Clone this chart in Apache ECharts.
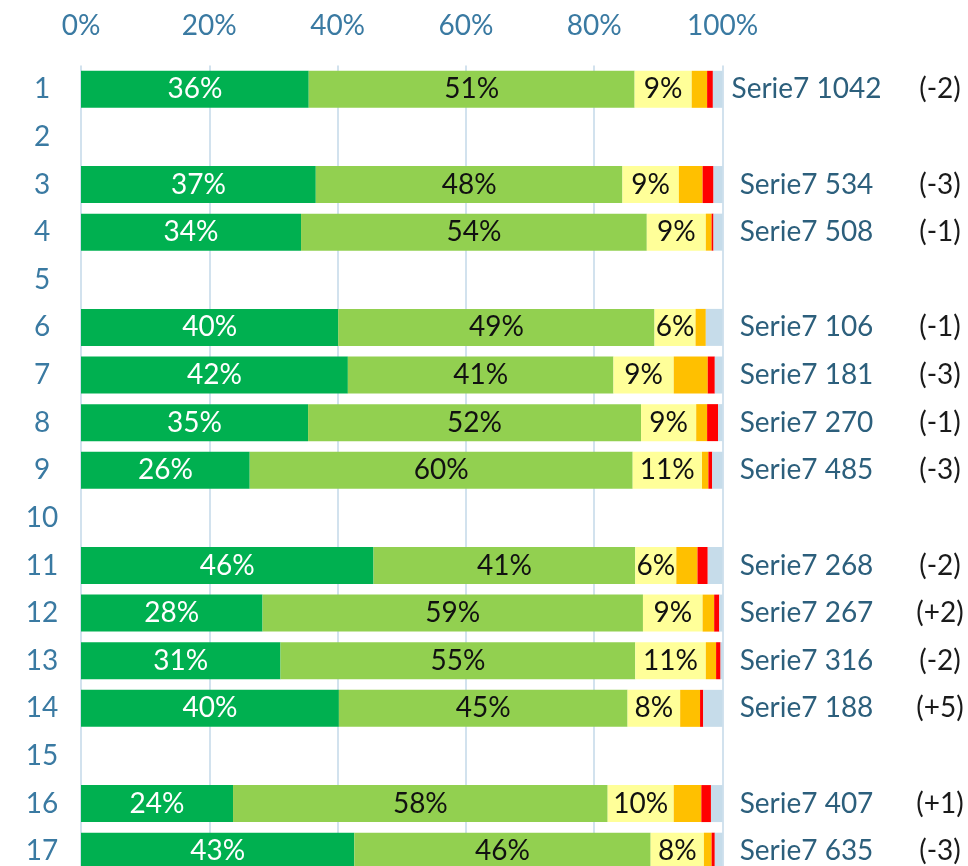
<!DOCTYPE html>
<html>
<head>
<meta charset="utf-8">
<script src="https://cdn.jsdelivr.net/npm/echarts@6/dist/echarts.min.js"></script>
<style>
  html, body { margin: 0; padding: 0; background: #fff; }
  #chart { width: 968px; height: 866px; }
</style>
</head>
<body>
<div id="chart"></div>
<script>
// rows (empty rows have null)
const categories = ['1', '2', '3', '4', '5', '6', '7', '8', '9', '10', '11', '12', '13', '14', '15', '16', '17']
const darkGreen  = [35.5, null, 36.6, 34.3, null, 40.1, 41.6, 35.4, 26.3, null, 45.6, 28.3, 31.1, 40.2, null, 23.7, 42.6]
const lightGreen = [50.8, null, 47.8, 53.9, null, 49.3, 41.4, 51.9, 59.7, null, 40.8, 59.3, 55.3, 45.0, null, 58.4, 46.2]
const yellow     = [8.9, null, 8.8, 9.2, null, 6.4, 9.4, 8.6, 10.8, null, 6.4, 9.3, 11.0, 8.2, null, 10.3, 8.3]
const orange     = [2.4, null, 3.7, 0.9, null, 1.6, 5.3, 1.7, 1.0, null, 3.3, 1.8, 1.6, 3.1, null, 4.3, 1.2]
const red        = [0.9, null, 1.7, 0.3, null, 0, 1.1, 1.7, 0.6, null, 1.6, 0.8, 0.7, 0.5, null, 1.5, 0.5]
const lightBlue  = [1.5, null, 1.4, 1.4, null, 2.6, 1.2, 0.7, 1.6, null, 2.3, 0.5, 0.3, 3.0, null, 1.8, 1.2]
const totals     = [1042, null, 534, 508, null, 106, 181, 270, 485, null, 268, 267, 316, 188, null, 407, 635]
const changes    = [-2, null, -3, -1, null, -1, -3, -1, -3, null, -2, 2, -2, 5, null, 1, -3]
const xTicks     = [0, 20, 40, 60, 80, 100]

const font = 'Lato, Carlito, "Open Sans", sans-serif'
const fontSize = 28

const myEcharts = echarts.init(document.getElementById('chart'))

const pctLabel = (color) => ({
  show: true,
  position: 'inside',
  color: color,
  fontFamily: font,
  fontSize: fontSize,
  formatter: (p) => Math.round(p.value) + '%'
})

const makeSeries = (name, data, color, label) => ({
  name: name,
  type: 'bar',
  stack: 'total',
  barWidth: 37,
  data: data,
  itemStyle: { color: color },
  label: label || { show: false },
  emphasis: { disabled: true }
})

const seriesData = [
  makeSeries('s1', darkGreen, '#00B050', pctLabel('#ffffff')),
  makeSeries('s2', lightGreen, '#92D050', pctLabel('#111111')),
  makeSeries('s3', yellow, '#FFFF99', pctLabel('#111111')),
  makeSeries('s4', orange, '#FFC000'),
  makeSeries('s5', red, '#FF0000'),
  makeSeries('s6', lightBlue, '#C6DCEA', {
    show: true,
    position: 'right',
    distance: 0,
    fontFamily: font,
    fontSize: fontSize,
    formatter: (p) => {
      const t = totals[p.dataIndex]
      const c = changes[p.dataIndex]
      if (t == null) return ''
      const cs = '(' + (c > 0 ? '+' + c : c) + ')'
      return '{a|Serie7 ' + t + '}{b|' + cs + '}'
    },
    rich: {
      a: { width: 168, align: 'center', color: '#2C5F7C', fontFamily: font, fontSize: fontSize },
      b: { width: 99, align: 'center', color: '#1a1a1a', fontFamily: font, fontSize: fontSize }
    }
  })
]

myEcharts.setOption({
  animation: false,
  grid: {
    left: 81,
    right: 245.5,
    top: 65.5,
    bottom: -9,
    outerBoundsMode: 'none'
  },
  xAxis: {
    type: 'value',
    position: 'top',
    min: 0,
    max: 100,
    interval: 20,
    axisLine: { show: false },
    axisTick: { show: false },
    axisLabel: {
      margin: 26,
      color: '#3A7AA2',
      fontFamily: font,
      fontSize: fontSize,
      formatter: (v) => xTicks.includes(v) ? v + '%' : ''
    },
    splitLine: {
      show: true,
      lineStyle: { color: '#D2E2EE', width: 2 }
    }
  },
  yAxis: {
    type: 'category',
    inverse: true,
    data: categories,
    axisLine: { show: false },
    axisTick: { show: false },
    axisLabel: {
      align: 'center',
      margin: 39,
      color: '#3A7AA2',
      fontFamily: font,
      fontSize: fontSize
    }
  },
  series: seriesData
})
</script>
</body>
</html>
